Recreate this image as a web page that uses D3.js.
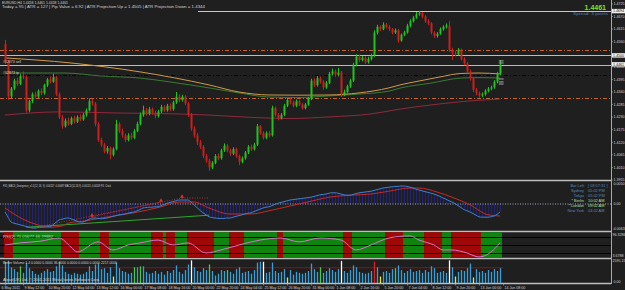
<!DOCTYPE html>
<html>
<head>
<meta charset="utf-8">
<script src="https://cdnjs.cloudflare.com/ajax/libs/d3/7.8.5/d3.min.js"></script>
<style>
body { margin: 0; background: #1f1f1f; overflow: hidden; }
svg { display: block; }
text { font-family: "Liberation Sans", Arial, sans-serif; }
</style>
</head>
<body>
<div id="chart"></div>
<script>
// EURUSD H4, prices kept in pips (4550 = 1.4550)
var firstOpenPips = 4550
var closePips = [
  4470,4320,4355,4390,4375,4410,4405,4260,4300,4330,
  4320,4345,4335,4370,4395,4385,4405,4330,4230,4190,
  4215,4200,4225,4210,4230,4220,4240,4260,4300,4290,
  4200,4130,4110,4080,4095,4065,4090,4200,4170,4150,
  4130,4150,4140,4170,4200,4240,4260,4245,4265,4250,
  4235,4255,4275,4260,4280,4265,4295,4320,4305,4320,
  4290,4240,4180,4150,4120,4100,4060,4040,4010,4030,
  4060,4050,4085,4105,4085,4070,4090,4060,4035,4050,
  4075,4100,4090,4110,4190,4160,4140,4160,4150,4270,
  4240,4225,4240,4280,4305,4295,4280,4300,4285,4270,
  4285,4310,4390,4370,4400,4385,4360,4380,4420,4430,
  4415,4425,4330,4340,4365,4390,4460,4495,4480,4490,
  4470,4485,4500,4600,4625,4615,4635,4625,4615,4600,
  4610,4565,4590,4600,4630,4650,4665,4680,4685,4670,
  4650,4640,4600,4585,4595,4615,4625,4630,4525,4510,
  4505,4525,4485,4465,4430,4400,4350,4335,4325,4330,
  4345,4355,4360,4385,4420,4461
]
var highPips = [
  4568,4478,4362,4398,4402,4418,4430,4412,4306,4338,
  4341,4352,4356,4376,4402,4408,4420,4412,4338,4240,
  4224,4228,4232,4236,4238,4242,4248,4268,4312,4310,
  4296,4208,4140,4118,4104,4102,4098,4218,4208,4180,
  4158,4160,4162,4178,4210,4250,4280,4270,4274,4272,
  4258,4262,4284,4282,4288,4290,4302,4340,4330,4328,
  4326,4296,4248,4190,4160,4130,4108,4070,4048,4038,
  4068,4072,4092,4115,4112,4092,4098,4096,4066,4058,
  4082,4108,4110,4118,4200,4196,4168,4168,4170,4280,
  4276,4248,4248,4288,4314,4316,4302,4308,4306,4292,
  4292,4318,4398,4400,4410,4408,4392,4388,4428,4442,
  4438,4445,4432,4350,4372,4398,4468,4505,4504,4498,
  4496,4494,4508,4610,4634,4632,4645,4642,4632,4620,
  4618,4616,4596,4608,4638,4658,4672,4690,4695,4690,
  4676,4658,4646,4606,4602,4622,4632,4640,4650,4534,
  4520,4532,4530,4492,4472,4438,4406,4358,4342,4338,
  4352,4362,4368,4392,4428,4480
]
var lowPips = [
  4462,4305,4312,4348,4366,4370,4396,4250,4252,4292,
  4312,4314,4326,4328,4362,4378,4380,4322,4222,4180,
  4184,4192,4195,4202,4204,4212,4214,4232,4255,4280,
  4190,4122,4100,4072,4070,4045,4058,4085,4160,4140,
  4120,4124,4132,4134,4164,4194,4232,4236,4238,4240,
  4225,4228,4248,4252,4254,4256,4258,4288,4296,4298,
  4282,4230,4170,4140,4108,4090,4050,4030,3995,4002,
  4024,4042,4044,4078,4076,4060,4064,4052,4020,4028,
  4044,4068,4082,4084,4104,4152,4132,4134,4142,4145,
  4232,4216,4220,4234,4274,4286,4272,4274,4278,4262,
  4264,4280,4304,4362,4364,4376,4350,4354,4374,4412,
  4406,4408,4318,4322,4334,4358,4384,4452,4472,4474,
  4462,4464,4478,4494,4592,4606,4610,4618,4606,4592,
  4594,4555,4560,4584,4596,4624,4644,4660,4674,4662,
  4642,4632,4592,4576,4578,4590,4608,4618,4515,4480,
  4496,4500,4478,4456,4422,4390,4340,4326,4315,4318,
  4324,4338,4348,4354,4378,4414
]

// moving averages (bar, pips)
var maOrangeBars = [0,22,45,68,78,88,98,108,118,128,132,138,145,152,158,165]
var maOrangePips = [4489,4467,4428,4371,4340,4327,4326,4327,4336,4358,4372,4388,4406,4421,4423,4419]
var maGreenBars = [0,20,32,45,55,68,78,88,98,108,118,128,132,142,152,158,165]
var maGreenPips = [4423,4423,4410,4401,4384,4358,4336,4318,4316,4323,4331,4344,4358,4379,4401,4403,4401]
var maRedBars = [0,18,38,58,68,82,95,108,122,132,145,155,165]
var maRedPips = [4239,4253,4248,4244,4239,4229,4224,4231,4244,4266,4288,4301,4309]

// horizontal levels on the price panel
var levelPips = [4694, 4524, 4500, 4458, 4414, 4314]
var projMarkPips = [4476, 4467, 4397, 4384, 4375]
var priceTicks = [1.4725,1.4670,1.4615,1.4560,1.4505,1.4450,1.4395,1.4340,1.4285,1.4230,1.4175,1.4120,1.4065,1.4010,1.3955]
var priceBoxes = [1.4694, 1.4500, 1.4461]

// MACD, units of 0.0001
var macdMain = [
  -20,-33,-45,-48,-50,-52,-54,-56,-58,-60,
  -60,-59,-58,-58,-57,-57,-52,-46,-40,-38,
  -36,-35,-37,-40,-43,-45,-45,-42,-38,-35,
  -35,-36,-37,-36,-35,-33,-31,-29,-27,-26,
  -25,-23,-21,-20,-17,-14,-10,-9,-8,-8,
  -7,-7,-4,-1,2,4,6,8,10,10,
  10,10,5,-2,-9,-16,-22,-27,-32,-34,
  -35,-36,-36,-36,-35,-35,-33,-31,-29,-27,
  -25,-23,-22,-19,-16,-13,-10,-8,-7,-4,
  -1,2,4,6,8,10,11,12,13,14,
  15,16,17,19,21,23,24,25,27,28,
  28,27,25,23,22,22,24,26,28,29,
  30,31,32,34,36,38,40,41,42,43,
  44,44,45,45,44,42,40,37,35,33,
  31,29,27,25,22,19,15,12,8,5,
  1,-4,-9,-14,-17,-20,-24,-28,-32,-33,
  -33,-33,-32,-30,-26,-20
]
var signalBars = [0,3,6,10,15,19,21,27,32,43,52,58,63,68,75,82,88,95,102,108,115,122,128,135,138,144,149,155,161,165]
var signalVals = [-10,-25,-38,-50,-58,-55,-48,-42,-35,-22,-7,5,5,-10,-25,-25,-17,-5,7,17,22,25,32,40,40,30,17,-2,-27,-30]
var divRedLines = [[9,-60,59,15],[29,-32,52,5],[59,15,68,15]]
var divGreenLines = [[7,-58,24,-50],[24,-50,68,-28]]
var divArrows = [[29,-32],[52,5],[59,15]]

// RSI line anchors and trend zones
var rsiBars = [0,5,12,18,22,24,31,36,41,45,51,56,61,67,72,78,85,92,98,105,112,117,122,128,135,138,143,146,149,154,158,162,165]
var rsiVals = [50,58,65,77,42,23,62,31,50,58,69,50,58,19,31,50,69,77,62,77,69,31,50,77,85,69,50,31,31,19,4,23,58]
var zoneStart = [0,3,19,25,32,35,49,53,54,57,61,70,75,80,91,93,113,116,127,133,140,146,149,159]
var zoneEnd   = [2,18,24,31,34,48,52,53,56,60,69,74,79,90,92,112,115,126,132,139,145,148,158,165]
var zoneUp    = [0,1,0,1,0,1,0,1,0,1,0,1,0,1,0,1,0,1,0,1,0,1,0,1]
var rsiLevels = [80, 50, 20]

// Better Volume
var volumes = [
  2300,2400,1700,1500,1200,1800,1100,2200,1600,1300,
  1000,900,1100,1300,1500,1200,1300,1800,2300,1900,
  1200,1000,900,1100,1000,900,1000,1200,1800,1300,
  2000,2100,1500,1600,1100,1700,700,2200,1600,1300,
  1200,1000,1100,1700,1700,1800,1800,1200,1000,1100,
  1300,1000,1200,900,1300,1100,1400,1900,1200,1000,
  1400,2000,2450,1700,1300,1200,1600,1400,2000,1300,
  800,1000,1400,1300,1400,1200,1000,1500,1700,1100,
  1200,1300,1000,1400,2200,2300,2300,1100,1200,2200,
  1300,1100,1200,1500,600,1400,900,1200,1100,1000,
  1100,1300,2100,1500,1200,1700,1100,1300,1600,1400,
  1200,1500,2400,1300,1100,1400,1900,1700,1200,1100,
  1000,1100,1300,2300,1700,700,1200,1300,1100,1500,
  1600,1900,1400,1100,1300,1500,1200,1300,1400,1100,
  1400,1200,1800,1600,1100,1200,1300,1100,2450,1700,
  700,1200,1400,1300,1600,2100,600,1500,1200,1300,
  1100,1400,1200,1500,1300,1600
]
var volGreenBars = [5,43,45,68,74,105,130]
var volYellowBars = [36,94,125,150,156]
var volWhiteBars = [62,86,112,148]
var volRedBars = [123]
var volAverage = 1650

var timeTickBars = [0,6,14,22,30,38,46,54,62,70,78,86,94,102,110,118,126,134,142,150,158,166]
var timeLabels = ["6 May 2011","9 May 12:00","10 May 20:00","12 May 04:00","13 May 12:00","16 May 00:00",
  "17 May 08:00","18 May 16:00","20 May 00:00","22 May 20:00","24 May 04:00","25 May 12:00",
  "26 May 20:00","31 May 00:00","1 Jun 08:00","2 Jun 16:00","5 Jun 20:00","7 Jun 04:00",
  "8 Jun 12:00","9 Jun 20:00","13 Jun 00:00","14 Jun 08:00"]

var clockNames = ["Bar Left", "Sydney", "Tokyo", "* Berlin", "* London", "New York"]
var clockTimes = ["[ 03:57:31 ]", "05:02 PM", "05:02 PM", "10:02 AM", "09:02 AM", "04:02 AM"]

// ---------------------------------------------------------------
var width = 625, height = 290, axisX = 611
var fg = "#d4d4d4"
var upCol = "#1fc41f", dnCol = "#cc1f1f"
var toPrice = function(p) { return 1 + p / 10000 }

var svg = d3.select("#chart").append("svg")
  .attr("width", width).attr("height", height)
svg.append("rect").attr("width", width).attr("height", height).attr("fill", "#1f1f1f")

var x = d3.scaleLinear().domain([0, 166]).range([5, 503])
var y = d3.scaleLinear().domain([1.3955, 1.4725]).range([180, 4])
var yMacd = d3.scaleLinear().domain([-63, 50]).range([229.2, 184])
var yRsi = d3.scaleLinear().domain([0, 100]).range([258, 232])
var yVol = d3.scaleLinear().domain([0, 2595.15]).range([283, 259])

function smallText(g, s, tx, ty, size, col, len) {
  var t = g.append("text").attr("x", tx).attr("y", ty).text(s)
    .attr("fill", col).style("font-size", size + "px")
  if (len) t.attr("textLength", len).attr("lengthAdjust", "spacingAndGlyphs")
  return t
}

// ---------- price panel ----------
var main = svg.append("g")

// horizontal levels
var levelStyle = [
  {from: 198, col: "#c8c8c8", dash: null, w: 1},
  {from: 0, col: "#c8642a", dash: "4,2,1,2", w: 1},
  {from: 0, col: "#bcbcbc", dash: null, w: 1.2},
  {from: 0, col: "#bcbcbc", dash: null, w: 1.2},
  {from: 0, col: "#050505", dash: "4,2,1,2", w: 1},
  {from: 0, col: "#c8642a", dash: "4,2,1,2", w: 1}
]
main.selectAll("line.level").data(levelPips).enter().append("line")
  .attr("x1", function(d, i) { return levelStyle[i].from })
  .attr("x2", axisX)
  .attr("y1", function(d) { return Math.round(y(toPrice(d))) + 0.5 })
  .attr("y2", function(d) { return Math.round(y(toPrice(d))) + 0.5 })
  .attr("stroke", function(d, i) { return levelStyle[i].col })
  .attr("stroke-width", function(d, i) { return levelStyle[i].w })
  .attr("stroke-dasharray", function(d, i) { return levelStyle[i].dash })

// moving averages
var maLine = d3.line()
  .x(function(d) { return x(d[0]) })
  .y(function(d) { return y(toPrice(d[1])) })
  .curve(d3.curveMonotoneX)
main.append("path").attr("d", maLine(d3.zip(maRedBars, maRedPips)))
  .attr("fill", "none").attr("stroke", "#8e2a3c").attr("stroke-width", 1)
main.append("path").attr("d", maLine(d3.zip(maGreenBars, maGreenPips)))
  .attr("fill", "none").attr("stroke", "#3a7a34").attr("stroke-width", 1)
main.append("path").attr("d", maLine(d3.zip(maOrangeBars, maOrangePips)))
  .attr("fill", "none").attr("stroke", "#cf9a45").attr("stroke-width", 1)

// candles
var candles = closePips.map(function(c, i) {
  var o = i === 0 ? firstOpenPips : closePips[i - 1]
  return {i: i, o: toPrice(o), h: toPrice(highPips[i]), l: toPrice(lowPips[i]), c: toPrice(c)}
})
var colOf = function(d) { return d.c >= d.o ? upCol : dnCol }
main.selectAll("line.wick").data(candles).enter().append("line")
  .attr("x1", function(d) { return x(d.i) + 0.5 })
  .attr("x2", function(d) { return x(d.i) + 0.5 })
  .attr("y1", function(d) { return y(d.h) })
  .attr("y2", function(d) { return y(d.l) })
  .attr("stroke", colOf).attr("stroke-width", 1)
main.selectAll("rect.body").data(candles).enter().append("rect")
  .attr("x", function(d) { return x(d.i) - 0.5 })
  .attr("width", 2)
  .attr("y", function(d) { return y(Math.max(d.o, d.c)) })
  .attr("height", function(d) { return Math.max(1, Math.abs(y(d.o) - y(d.c))) })
  .attr("fill", colOf)

// ATR projection marks next to the last bar
main.selectAll("line.proj").data(projMarkPips).enter().append("line")
  .attr("x1", x(164.6)).attr("x2", x(166.2))
  .attr("y1", function(d) { return y(toPrice(d)) })
  .attr("y2", function(d) { return y(toPrice(d)) })
  .attr("stroke", "#a8a8a8").attr("stroke-width", 1)

// texts on price panel
smallText(main, "EURUSD,H4  1.4458 1.4461 1.4458 1.4461", 2, 4, 3.4, fg, 66)
smallText(main, "Today = 95  |  ATR = 127  |  Pip Value = 6.92  |  ATR Projection Up = 1.4505  |  ATR Projection Down = 1.4344", 2, 8.3, 3.4, fg, 203)
smallText(main, "#12873 sell", 3, y(toPrice(4458)) - 2, 3.4, fg, 18)
smallText(main, "#12873 tp", 3, y(toPrice(4414)) - 1.5, 3.4, fg, 16)
svg.append("text").attr("x", 606).attr("y", 9.5).attr("text-anchor", "end")
  .text("1.4461").attr("fill", "#7ee02a").style("font-size", "7px").style("font-weight", "bold")
smallText(main, "Spread: 3 points", 573, 15, 3.8, "#4f7fb0", 35)

// ---------- panel frames and right axis ----------
var seps = [180.5, 231.5, 258.5, 283.5]
svg.selectAll("line.sep").data(seps).enter().append("line")
  .attr("x1", 0).attr("x2", axisX).attr("y1", function(d) { return d }).attr("y2", function(d) { return d })
  .attr("stroke", "#bdbdbd").attr("stroke-width", 1.3)
svg.append("line").attr("x1", axisX + 0.5).attr("x2", axisX + 0.5).attr("y1", 0).attr("y2", 284)
  .attr("stroke", "#a8a8a8").attr("stroke-width", 1)

var axisG = svg.append("g")
axisG.selectAll("text").data(priceTicks).enter().append("text")
  .attr("x", axisX + 2.5).attr("y", function(d) { return y(d) + 1.3 })
  .text(function(d) { return d.toFixed(4) })
  .attr("fill", fg).style("font-size", "3.6px")
axisG.selectAll("line").data(priceTicks).enter().append("line")
  .attr("x1", axisX).attr("x2", axisX + 2).attr("y1", function(d) { return y(d) }).attr("y2", function(d) { return y(d) })
  .attr("stroke", "#a8a8a8").attr("stroke-width", 0.6)
var boxG = axisG.selectAll("g.box").data(priceBoxes).enter().append("g")
boxG.append("rect").attr("x", axisX + 1).attr("width", 13)
  .attr("y", function(d) { return y(d) - 2.2 }).attr("height", 4.4).attr("fill", "#f0f0f0")
boxG.append("text").attr("x", axisX + 2).attr("y", function(d) { return y(d) + 1.3 })
  .text(function(d) { return d.toFixed(4) }).attr("fill", "#111").style("font-size", "3.6px")

// ---------- MACD panel ----------
var mg = svg.append("g")
mg.selectAll("line.hist").data(macdMain).enter().append("line")
  .attr("x1", function(d, i) { return x(i) + 0.5 }).attr("x2", function(d, i) { return x(i) + 0.5 })
  .attr("y1", yMacd(0)).attr("y2", function(d) { return yMacd(d) })
  .attr("stroke", "#232372").attr("stroke-width", 1.2)
mg.append("line").attr("x1", 0).attr("x2", axisX).attr("y1", yMacd(0)).attr("y2", yMacd(0))
  .attr("stroke", "#c8c8f0").attr("stroke-width", 0.8).attr("stroke-dasharray", "1,1.5")
mg.selectAll("line.divg").data(divGreenLines).enter().append("line")
  .attr("x1", function(d) { return x(d[0]) }).attr("y1", function(d) { return yMacd(d[1]) })
  .attr("x2", function(d) { return x(d[2]) }).attr("y2", function(d) { return yMacd(d[3]) })
  .attr("stroke", "#2fa52f").attr("stroke-width", 1)
mg.selectAll("line.divr").data(divRedLines).enter().append("line")
  .attr("x1", function(d) { return x(d[0]) }).attr("y1", function(d) { return yMacd(d[1]) })
  .attr("x2", function(d) { return x(d[2]) }).attr("y2", function(d) { return yMacd(d[3]) })
  .attr("stroke", "#c83030").attr("stroke-width", 0.9).attr("stroke-dasharray", "1,1.5")
var macdLine = d3.line()
  .x(function(d, i) { return x(i) })
  .y(function(d) { return yMacd(d) })
  .curve(d3.curveMonotoneX)
var sigLine = d3.line()
  .x(function(d) { return x(d[0]) })
  .y(function(d) { return yMacd(d[1]) })
  .curve(d3.curveMonotoneX)
mg.append("path").attr("d", sigLine(d3.zip(signalBars, signalVals)))
  .attr("fill", "none").attr("stroke", "#c42a2a").attr("stroke-width", 1)
mg.append("path").attr("d", macdLine(macdMain))
  .attr("fill", "none").attr("stroke", "#3f7fcc").attr("stroke-width", 1)
mg.selectAll("path.arrow").data(divArrows).enter().append("path")
  .attr("d", d3.symbol().type(d3.symbolTriangle).size(7))
  .attr("transform", function(d) { return "translate(" + x(d[0]) + "," + (yMacd(d[1]) - 1.5) + ")" })
  .attr("fill", "#e03030")
smallText(mg, "FX5_MACD_Divergence_v1.1(12, 26, 9) -0.00117 -0.00087   MACD(12,26,9) -0.00113 -0.00109   P4. Clock", 3, 187, 3.2, fg, 108)
smallText(mg, "0.0050", axisX + 2.5, 185.3, 3.6, fg)
smallText(mg, "0.00", axisX + 2.5, yMacd(0) + 1.3, 3.6, fg)
smallText(mg, "-0.0063", axisX + 1.5, 230.3, 3.6, fg)

// clock
clockNames.forEach(function(n, i) {
  var col = n.charAt(0) === "*" ? "#a6e0a0" : "#5a88bd"
  mg.append("text").attr("x", 584).attr("y", 187.3 + i * 5).attr("text-anchor", "end")
    .text(n).attr("fill", col).style("font-size", "3.9px")
  mg.append("text").attr("x", 588).attr("y", 187.3 + i * 5)
    .text(clockTimes[i]).attr("fill", col).style("font-size", "3.9px")
})

// ---------- RSI panel ----------
var rg = svg.append("g")
rg.selectAll("rect.zone").data(zoneStart).enter().append("rect")
  .attr("x", function(d) { return x(d) - 1 })
  .attr("width", function(d, i) { return x(zoneEnd[i]) - x(d) + 3 })
  .attr("y", 232.2).attr("height", 25.8)
  .attr("fill", function(d, i) { return zoneUp[i] ? "#0f850f" : "#a00808" })
rg.selectAll("line.lvl").data(rsiLevels).enter().append("line")
  .attr("x1", 0).attr("x2", axisX)
  .attr("y1", function(d) { return Math.round(yRsi(d)) + 0.5 })
  .attr("y2", function(d) { return Math.round(yRsi(d)) + 0.5 })
  .attr("stroke", "#000").attr("stroke-width", 1)
var rsiLine = d3.line()
  .x(function(d) { return x(d[0]) })
  .y(function(d) { return yRsi(d[1]) })
  .curve(d3.curveMonotoneX)
rg.append("path").attr("d", rsiLine(d3.zip(rsiBars, rsiVals)))
  .attr("fill", "none").attr("stroke", "#d874cf").attr("stroke-width", 1)
smallText(rg, "RSI(2) 71.05677 46.29882", 3, 237.8, 3.3, fg, 50)
smallText(rg, "96.3286", axisX + 1.5, 236, 3.6, fg)
smallText(rg, "3.6788", axisX + 1.5, 257, 3.6, fg)

// ---------- volume panel ----------
var vg = svg.append("g")
vg.append("line").attr("x1", 0).attr("x2", x(166)).attr("y1", yVol(volAverage)).attr("y2", yVol(volAverage))
  .attr("stroke", "#8a1414").attr("stroke-width", 1)
var volCol = function(d, i) {
  if (volRedBars.indexOf(i) >= 0) return "#e02020"
  if (volWhiteBars.indexOf(i) >= 0) return "#ffffff"
  if (volYellowBars.indexOf(i) >= 0) return "#e6e63a"
  if (volGreenBars.indexOf(i) >= 0) return "#4cc84c"
  return "#3a9fd6"
}
vg.selectAll("line.vol").data(volumes).enter().append("line")
  .attr("x1", function(d, i) { return x(i) + 0.5 }).attr("x2", function(d, i) { return x(i) + 0.5 })
  .attr("y1", yVol(0)).attr("y2", function(d) { return yVol(d) })
  .attr("stroke", volCol).attr("stroke-width", 1.3)
smallText(vg, "Better Volume 1.4 0.0000 0.0000 36.0000 0.0000 0.0000 0.0000 2217.0000", 3, 263.5, 3.2, fg, 114)
smallText(vg, "Alpari(UK) Ltd. \u00a9 2001-2011 MetaQuotes Software Corp.", 3, 281.2, 3.2, fg, 97)
smallText(vg, "2595.15", axisX + 1.5, 261.5, 3.6, fg)
smallText(vg, "0.00", axisX + 2.5, 283, 3.6, fg)

// ---------- time axis ----------
var tg = svg.append("g")
tg.selectAll("line").data(timeTickBars).enter().append("line")
  .attr("x1", function(d) { return x(d) + 0.5 }).attr("x2", function(d) { return x(d) + 0.5 })
  .attr("y1", 283.5).attr("y2", 285.5).attr("stroke", "#a8a8a8").attr("stroke-width", 0.6)
tg.selectAll("text").data(timeTickBars).enter().append("text")
  .attr("x", function(d, i) { return i === 0 ? 1.5 : x(d) + 1.5 })
  .attr("y", 288.6)
  .text(function(d, i) { return timeLabels[i] })
  .attr("fill", fg).style("font-size", "3.6px")
</script>
</body>
</html>
